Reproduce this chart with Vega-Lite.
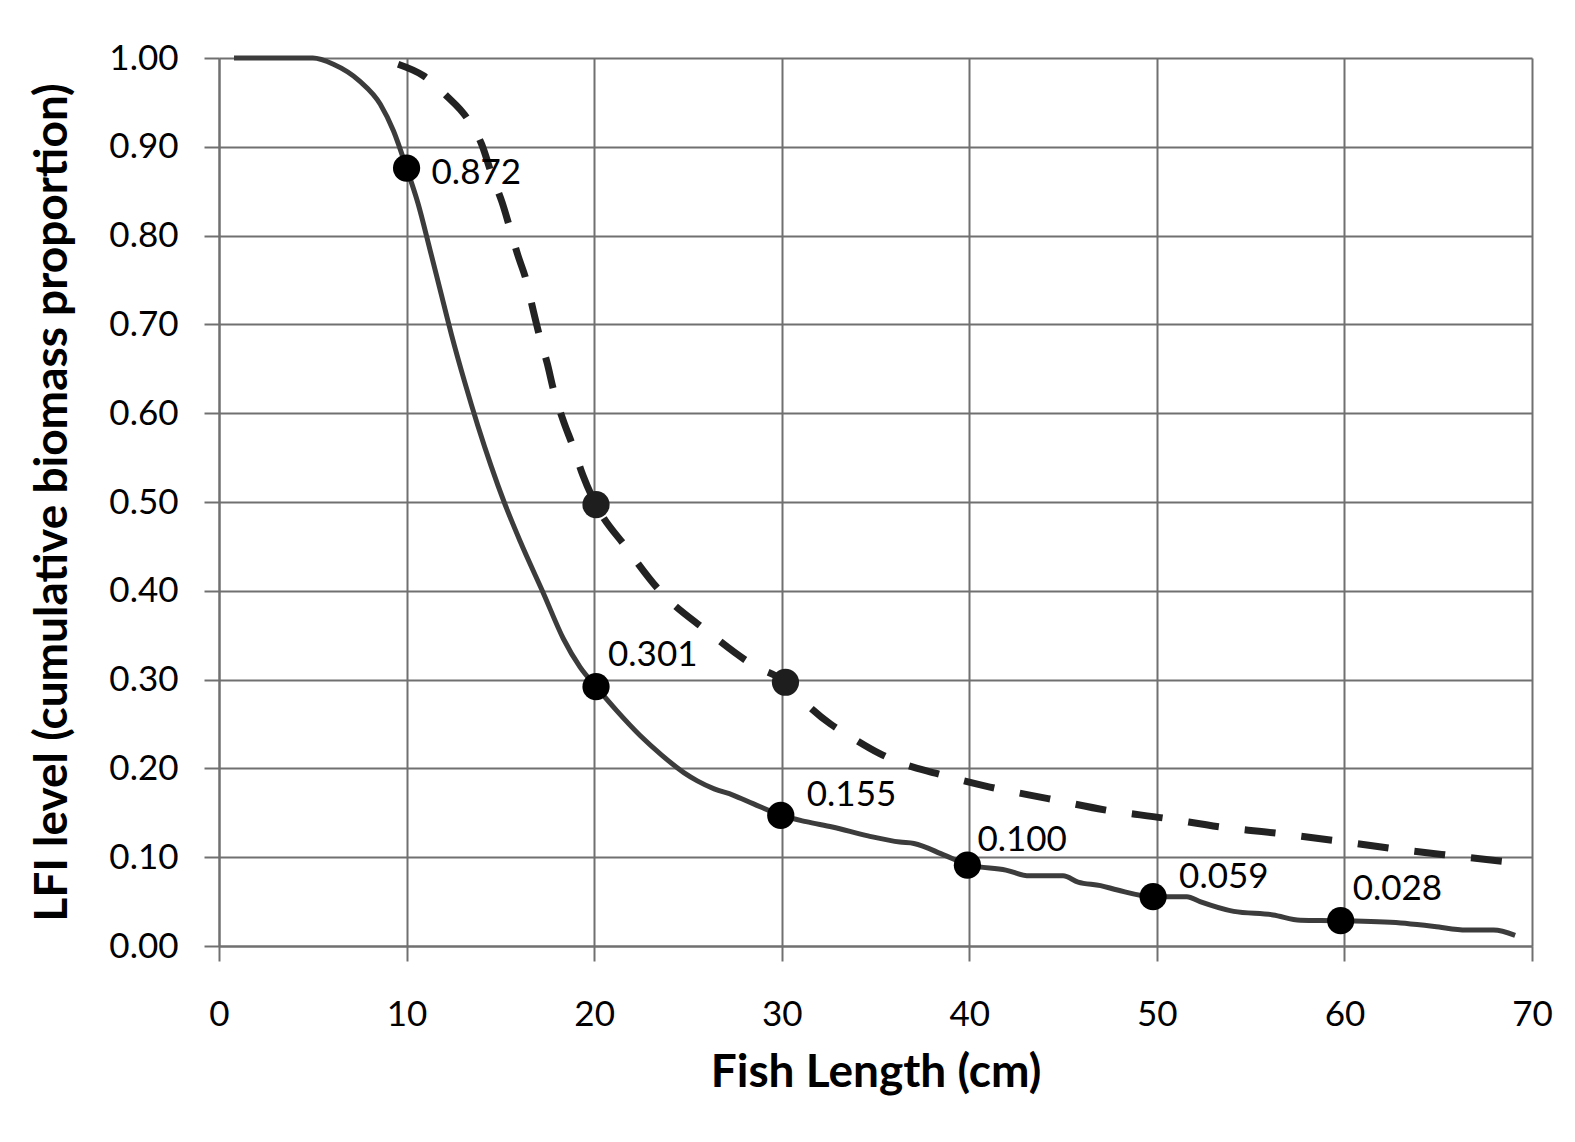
{
  "$schema": "https://vega.github.io/schema/vega-lite/v6.json",
  "width": 1313,
  "height": 888,
  "autosize": {"type": "none"},
  "padding": {"left": 219, "top": 58, "right": 43, "bottom": 196},
  "background": "white",
  "config": {
    "view": {"stroke": null},
    "font": "Lato",
    "axis": {
      "gridColor": "#707070",
      "gridWidth": 2,
      "gridOpacity": 1,
      "domainColor": "#707070",
      "domainWidth": 2,
      "tickColor": "#707070",
      "tickWidth": 2,
      "tickSize": 15,
      "labelFont": "Lato",
      "labelFontSize": 35,
      "labelColor": "#000000",
      "titleFont": "Lato",
      "titleFontSize": 46,
      "titleFontWeight": "bold",
      "titleColor": "#000000"
    }
  },
  "datasets": {
    "curves": [
      {"series": "solid", "length": 0.8, "lfi": 1.0},
      {"series": "solid", "length": 3.0, "lfi": 1.0},
      {"series": "solid", "length": 5.0, "lfi": 1.0},
      {"series": "solid", "length": 6.1, "lfi": 0.993},
      {"series": "solid", "length": 7.5, "lfi": 0.974},
      {"series": "solid", "length": 8.6, "lfi": 0.948},
      {"series": "solid", "length": 9.3, "lfi": 0.918},
      {"series": "solid", "length": 10.0, "lfi": 0.876},
      {"series": "solid", "length": 10.6, "lfi": 0.837},
      {"series": "solid", "length": 11.25, "lfi": 0.784},
      {"series": "solid", "length": 11.8, "lfi": 0.738},
      {"series": "solid", "length": 12.4, "lfi": 0.688},
      {"series": "solid", "length": 13.1, "lfi": 0.635},
      {"series": "solid", "length": 13.8, "lfi": 0.586},
      {"series": "solid", "length": 14.5, "lfi": 0.541},
      {"series": "solid", "length": 15.2, "lfi": 0.5},
      {"series": "solid", "length": 16.05, "lfi": 0.456},
      {"series": "solid", "length": 17.3, "lfi": 0.397},
      {"series": "solid", "length": 18.36, "lfi": 0.346},
      {"series": "solid", "length": 19.25, "lfi": 0.314},
      {"series": "solid", "length": 20.1, "lfi": 0.292},
      {"series": "solid", "length": 21.2, "lfi": 0.265},
      {"series": "solid", "length": 22.45, "lfi": 0.237},
      {"series": "solid", "length": 23.6, "lfi": 0.215},
      {"series": "solid", "length": 24.8, "lfi": 0.195},
      {"series": "solid", "length": 25.5, "lfi": 0.186},
      {"series": "solid", "length": 26.4, "lfi": 0.177},
      {"series": "solid", "length": 27.4, "lfi": 0.17},
      {"series": "solid", "length": 28.5, "lfi": 0.16},
      {"series": "solid", "length": 30.0, "lfi": 0.147},
      {"series": "solid", "length": 31.3, "lfi": 0.14},
      {"series": "solid", "length": 32.7, "lfi": 0.134},
      {"series": "solid", "length": 34.6, "lfi": 0.124},
      {"series": "solid", "length": 36.3, "lfi": 0.117},
      {"series": "solid", "length": 37.05, "lfi": 0.1155},
      {"series": "solid", "length": 38.7, "lfi": 0.102},
      {"series": "solid", "length": 40.0, "lfi": 0.091},
      {"series": "solid", "length": 41.95, "lfi": 0.0855},
      {"series": "solid", "length": 43.2, "lfi": 0.079},
      {"series": "solid", "length": 45.0, "lfi": 0.079},
      {"series": "solid", "length": 45.8, "lfi": 0.072},
      {"series": "solid", "length": 47.0, "lfi": 0.068},
      {"series": "solid", "length": 47.9, "lfi": 0.063},
      {"series": "solid", "length": 49.8, "lfi": 0.0555},
      {"series": "solid", "length": 51.6, "lfi": 0.0555},
      {"series": "solid", "length": 52.3, "lfi": 0.05},
      {"series": "solid", "length": 54.1, "lfi": 0.039},
      {"series": "solid", "length": 56.2, "lfi": 0.035},
      {"series": "solid", "length": 57.65, "lfi": 0.029},
      {"series": "solid", "length": 59.8, "lfi": 0.0285},
      {"series": "solid", "length": 63.0, "lfi": 0.026},
      {"series": "solid", "length": 64.8, "lfi": 0.022},
      {"series": "solid", "length": 66.5, "lfi": 0.018},
      {"series": "solid", "length": 67.95, "lfi": 0.018},
      {"series": "solid", "length": 69.1, "lfi": 0.012},
      {"series": "dashed", "length": 9.55, "lfi": 0.993},
      {"series": "dashed", "length": 10.9, "lfi": 0.98},
      {"series": "dashed", "length": 12.15, "lfi": 0.957},
      {"series": "dashed", "length": 13.2, "lfi": 0.933},
      {"series": "dashed", "length": 14.0, "lfi": 0.903},
      {"series": "dashed", "length": 14.6, "lfi": 0.865},
      {"series": "dashed", "length": 15.1, "lfi": 0.837},
      {"series": "dashed", "length": 15.5, "lfi": 0.809},
      {"series": "dashed", "length": 15.9, "lfi": 0.78},
      {"series": "dashed", "length": 16.4, "lfi": 0.748},
      {"series": "dashed", "length": 16.75, "lfi": 0.716},
      {"series": "dashed", "length": 17.1, "lfi": 0.686},
      {"series": "dashed", "length": 17.5, "lfi": 0.656},
      {"series": "dashed", "length": 17.85, "lfi": 0.625},
      {"series": "dashed", "length": 18.35, "lfi": 0.592},
      {"series": "dashed", "length": 18.9, "lfi": 0.561},
      {"series": "dashed", "length": 19.4, "lfi": 0.53},
      {"series": "dashed", "length": 20.1, "lfi": 0.497},
      {"series": "dashed", "length": 21.7, "lfi": 0.449},
      {"series": "dashed", "length": 23.5, "lfi": 0.4},
      {"series": "dashed", "length": 26.0, "lfi": 0.355},
      {"series": "dashed", "length": 28.5, "lfi": 0.316},
      {"series": "dashed", "length": 30.2, "lfi": 0.297},
      {"series": "dashed", "length": 31.0, "lfi": 0.279},
      {"series": "dashed", "length": 32.6, "lfi": 0.25},
      {"series": "dashed", "length": 33.5, "lfi": 0.238},
      {"series": "dashed", "length": 35.2, "lfi": 0.217},
      {"series": "dashed", "length": 36.0, "lfi": 0.209},
      {"series": "dashed", "length": 38.3, "lfi": 0.194},
      {"series": "dashed", "length": 41.1, "lfi": 0.179},
      {"series": "dashed", "length": 44.2, "lfi": 0.166},
      {"series": "dashed", "length": 47.3, "lfi": 0.153},
      {"series": "dashed", "length": 50.4, "lfi": 0.144},
      {"series": "dashed", "length": 53.4, "lfi": 0.134},
      {"series": "dashed", "length": 56.4, "lfi": 0.127},
      {"series": "dashed", "length": 59.4, "lfi": 0.119},
      {"series": "dashed", "length": 62.45, "lfi": 0.11},
      {"series": "dashed", "length": 65.65, "lfi": 0.102},
      {"series": "dashed", "length": 69.5, "lfi": 0.093}
    ],
    "markers": [
      {"series": "solid", "length": 10.0, "lfi": 0.876, "label": "0.872"},
      {"series": "solid", "length": 20.1, "lfi": 0.292, "label": "0.301"},
      {"series": "solid", "length": 29.95, "lfi": 0.147, "label": "0.155"},
      {"series": "solid", "length": 39.9, "lfi": 0.091, "label": "0.100"},
      {"series": "solid", "length": 49.8, "lfi": 0.0555, "label": "0.059"},
      {"series": "solid", "length": 59.8, "lfi": 0.0285, "label": "0.028"},
      {"series": "dashed", "length": 20.1, "lfi": 0.497, "label": ""},
      {"series": "dashed", "length": 30.2, "lfi": 0.297, "label": ""}
    ]
  },
  "encoding": {
    "x": {
      "field": "length",
      "type": "quantitative",
      "scale": {"domain": [0, 70], "nice": false, "zero": false},
      "axis": {
        "title": "Fish Length (cm)",
        "values": [0, 10, 20, 30, 40, 50, 60, 70],
        "labelPadding": 36,
        "titlePadding": 18,
        "labelFlush": false
      }
    },
    "y": {
      "field": "lfi",
      "type": "quantitative",
      "scale": {"domain": [0, 1], "nice": false},
      "axis": {
        "title": "LFI level (cumulative biomass proportion)",
        "values": [0, 0.1, 0.2, 0.3, 0.4, 0.5, 0.6, 0.7, 0.8, 0.9, 1.0],
        "format": ".2f",
        "labelPadding": 26,
        "titlePadding": 32,
        "labelFlush": false
      }
    }
  },
  "layer": [
    {
      "data": {"name": "curves"},
      "transform": [{"filter": "datum.series === 'solid'"}],
      "mark": {"type": "line", "color": "#3c3c3c", "strokeWidth": 5, "interpolate": "monotone"}
    },
    {
      "data": {"name": "curves"},
      "transform": [{"filter": "datum.series === 'dashed'"}],
      "mark": {"type": "line", "color": "#222222", "strokeWidth": 7, "strokeDash": [31, 26], "interpolate": "monotone"}
    },
    {
      "data": {"name": "markers"},
      "transform": [{"filter": "datum.series === 'dashed'"}],
      "mark": {"type": "point", "filled": true, "opacity": 1, "size": 740, "color": "#1e1e1e"}
    },
    {
      "data": {"name": "markers"},
      "transform": [{"filter": "datum.series === 'solid'"}],
      "mark": {"type": "point", "filled": true, "opacity": 1, "size": 740, "color": "#000000"}
    },
    {
      "data": {"name": "markers"},
      "transform": [{"filter": "datum.label === '0.872'"}],
      "mark": {"type": "text", "align": "left", "baseline": "middle", "dx": 25, "dy": 5, "fontSize": 35, "font": "Lato", "color": "#000000"},
      "encoding": {"text": {"field": "label"}}
    },
    {
      "data": {"name": "markers"},
      "transform": [{"filter": {"field": "label", "oneOf": ["0.155", "0.059"]}}],
      "mark": {"type": "text", "align": "left", "baseline": "middle", "dx": 26, "dy": -20, "fontSize": 35, "font": "Lato", "color": "#000000"},
      "encoding": {"text": {"field": "label"}}
    },
    {
      "data": {"name": "markers"},
      "transform": [{"filter": {"field": "label", "oneOf": ["0.301", "0.028"]}}],
      "mark": {"type": "text", "align": "left", "baseline": "middle", "dx": 12, "dy": -32, "fontSize": 35, "font": "Lato", "color": "#000000"},
      "encoding": {"text": {"field": "label"}}
    },
    {
      "data": {"name": "markers"},
      "transform": [{"filter": "datum.label === '0.100'"}],
      "mark": {"type": "text", "align": "left", "baseline": "middle", "dx": 10, "dy": -25, "fontSize": 35, "font": "Lato", "color": "#000000"},
      "encoding": {"text": {"field": "label"}}
    }
  ]
}
